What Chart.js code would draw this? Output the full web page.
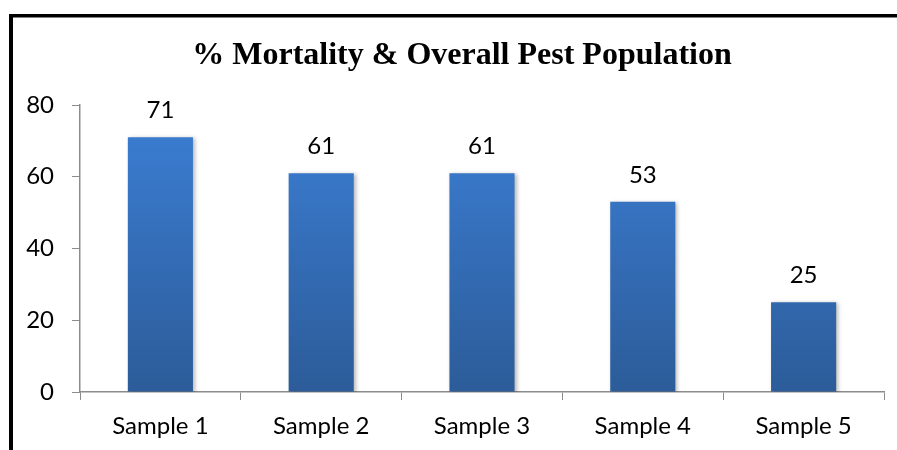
<!DOCTYPE html>
<html>
<head>
<meta charset="utf-8">
<script src="https://cdn.jsdelivr.net/npm/chart.js@4"></script>
<style>
  html, body { margin: 0; padding: 0; background: #fff; }
  #wrap { width: 897px; height: 450px; position: relative; }
</style>
</head>
<body>
<div id="wrap"><canvas id="c" width="897" height="450"></canvas></div>
<script>
const categories = ['Sample 1', 'Sample 2', 'Sample 3', 'Sample 4', 'Sample 5'];
const mortality = [71, 61, 61, 53, 25];
const yTicks = [0, 20, 40, 60, 80];
const chartTitle = '% Mortality & Overall Pest Population';

const labelFont = { family: 'Lato, "Liberation Sans", sans-serif', size: 24 };
const axisGray = '#8c8c8c';

// Vertical blue gradient for each bar
function barGradient(ctx) {
  const chart = ctx.chart;
  const area = chart.chartArea;
  if (!area) return '#3a78c8';
  const g = chart.ctx.createLinearGradient(0, area.top, 0, area.bottom);
  g.addColorStop(0, '#3c7fd6');
  g.addColorStop(1, '#2c5c99');
  return g;
}

// Frame lines along the top and left, plus the heading
const framePlugin = {
  id: 'frame',
  afterDraw(chart) {
    const c = chart.ctx;
    c.save();
    c.fillStyle = '#000';
    c.fillRect(9, 14, 897 - 9, 3.5);
    c.fillRect(9, 14, 4, 450 - 14);
    c.font = 'bold 32px "Liberation Serif", "Times New Roman", serif';
    c.textAlign = 'center';
    c.textBaseline = 'alphabetic';
    c.fillText(chartTitle, 462, 64);
    c.restore();
  }
};

// Soft shadow beneath the bars
const shadowPlugin = {
  id: 'barShadow',
  beforeDatasetDraw(chart) {
    const c = chart.ctx;
    c.save();
    c.shadowColor = 'rgba(0,0,0,0.28)';
    c.shadowBlur = 4;
    c.shadowOffsetX = 2;
    c.shadowOffsetY = 1;
  },
  afterDatasetDraw(chart) {
    chart.ctx.restore();
  }
};

// Value printed above each bar
const valueLabels = {
  id: 'valueLabels',
  afterDatasetsDraw(chart) {
    const c = chart.ctx;
    const meta = chart.getDatasetMeta(0);
    c.save();
    c.fillStyle = '#000';
    c.font = `${labelFont.size}px ${labelFont.family}`;
    c.textAlign = 'center';
    c.textBaseline = 'middle';
    meta.data.forEach((bar, i) => {
      c.fillText(String(mortality[i]), bar.x, bar.y - 27);
    });
    c.restore();
  }
};

new Chart(document.getElementById('c'), {
  type: 'bar',
  data: {
    labels: categories,
    datasets: [{
      data: mortality,
      backgroundColor: barGradient,
      borderWidth: 0,
      categoryPercentage: 1,
      barPercentage: 0.405
    }]
  },
  options: {
    responsive: false,
    animation: false,
    devicePixelRatio: 1,
    layout: { padding: { left: 0, right: 13, top: 105, bottom: 0 } },
    plugins: {
      legend: { display: false },
      tooltip: { enabled: false },
      title: { display: false }
    },
    scales: {
      x: {
        grid: { display: true, drawOnChartArea: false, drawTicks: true, tickLength: 8, color: axisGray, offset: true },
        border: { display: true, color: axisGray, width: 1.5 },
        ticks: { color: '#000', font: labelFont, padding: 12 },
        afterFit(scale) { scale.height = 58; }
      },
      y: {
        min: 0,
        max: 80,
        afterBuildTicks(scale) { scale.ticks = yTicks.map(v => ({ value: v })); },
        grid: { display: true, drawOnChartArea: false, drawTicks: true, tickLength: 8, color: axisGray },
        border: { display: true, color: axisGray, width: 1.5 },
        ticks: { color: '#000', font: labelFont, padding: 18 },
        afterFit(scale) { scale.width = 80; }
      }
    }
  },
  plugins: [shadowPlugin, valueLabels, framePlugin]
});
</script>
</body>
</html>
